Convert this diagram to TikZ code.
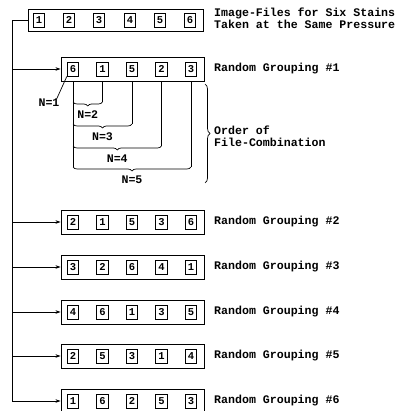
\documentclass[tikz,border=0pt]{standalone}
\usepackage{fontspec}
\setmonofont{Liberation Mono}
\usetikzlibrary{arrows.meta,decorations.pathreplacing,calc}
\begin{document}
\begin{tikzpicture}[x=1pt,y=-1pt,
 lbl/.style={font=\ttfamily\bfseries\fontsize{11.6}{12}\selectfont, inner sep=0},
 cell/.style={draw, line width=0.8pt, minimum width=11.5pt, minimum height=14pt, inner sep=0, font=\ttfamily\bfseries\fontsize{10.5}{10}\selectfont},
 row/.style={draw, line width=0.9pt, minimum width=143pt, minimum height=24pt, inner sep=0},
 arr/.style={-{Stealth[length=5pt,width=3.5pt]}, line width=0.7pt},
 ln/.style={line width=0.7pt}]
\useasboundingbox (0,0) rectangle (403,411);
% top row
\node[row, minimum width=175pt, minimum height=22pt] (r0) at (115.5,20) {};
\foreach \i/\x in {1/39,2/69,3/99,4/130,5/160,6/190}
  \node[cell] (r0-\i) at (\x,20) {\i};
\node[lbl, anchor=west, align=left] (top) at (214,18) {Image-Files for Six Stains\\Taken at the Same Pressure};
% grouping rows
\foreach \r/\y/\a/\b/\c/\d/\e in {1/69/6/1/5/2/3, 2/222/2/1/5/3/6, 3/267/3/2/6/4/1, 4/312/4/6/1/3/5, 5/356/2/5/3/1/4, 6/401/1/6/2/5/3} {
  \node[row] (r\r) at (132.5,\y) {};
  \node[cell] (r\r-1) at (73,\y) {\a};
  \node[cell] (r\r-2) at (102.5,\y) {\b};
  \node[cell] (r\r-3) at (132,\y) {\c};
  \node[cell] (r\r-4) at (161.5,\y) {\d};
  \node[cell] (r\r-5) at (191,\y) {\e};
  \node[lbl, anchor=west] (t\r) at (214,\y) {Random Grouping \#\r};
}
% spine and arrows
\coordinate (L) at (12,20);
\draw[arr] (r0.west) -- (L) |- (r6.west);
\foreach \r in {1,2,3,4,5}
  \draw[arr] (L |- r\r.west) -- (r\r.west);
% N=1
\node[lbl] (n1) at (49,103) {N=1};
\draw[ln] ($(n1.north east)+(-3,0)$) -- (r1-1.south west);
% braces
\foreach \k/\y in {2/102,3/124,4/146,5/167} {
  \draw[ln] (r1-1 |- r1.south) -- (r1-1 |- 0,\y);
  \draw[ln] (r1-\k |- r1.south) -- (r1-\k |- 0,\y);
  \draw[ln, decorate, decoration={brace,mirror,amplitude=4pt}] (r1-1 |- 0,\y) -- (r1-\k |- 0,\y);
  \node[lbl] (n\k) at ($(r1-1 |- 0,\y)!0.5!(r1-\k |- 0,\y) + (0,12.5)$) {N=\k};
}
% big brace
\coordinate (bt) at (205,84);
\coordinate (bb) at (205,183);
\draw[ln, decorate, decoration={brace, amplitude=5pt}] (bt) -- (bb);
\node[lbl, anchor=west, align=left] (ord) at (214,136) {Order of\\File-Combination};
\end{tikzpicture}
\end{document}
